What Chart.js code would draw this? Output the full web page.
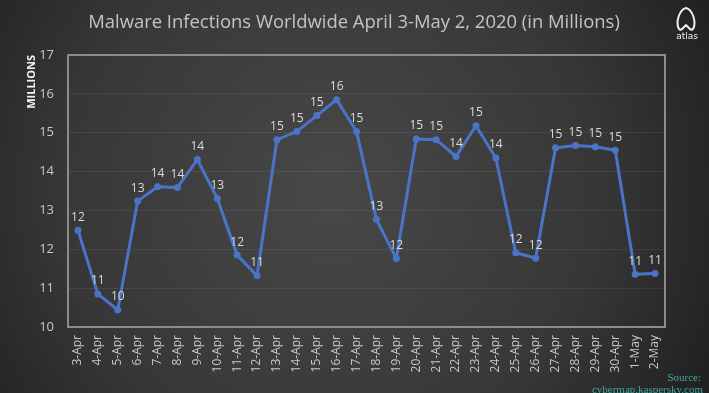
<!DOCTYPE html>
<html>
<head>
<meta charset="utf-8">
<script src="https://cdn.jsdelivr.net/npm/chart.js@4.4.1/dist/chart.umd.min.js"></script>
<style>
html,body{margin:0;padding:0;background:#2e2e2e;}
#wrap{width:709px;height:393px;position:relative;}
</style>
</head>
<body>
<div id="wrap"><canvas id="c" width="709" height="393"></canvas></div>
<script>
const chartTitle = "Malware Infections Worldwide April 3-May 2, 2020 (in Millions)";
const yAxisTitle = "MILLIONS";
const sourceLines = ["Source:", "cybermap.kaspersky.com"];
const logoText = "atlas";
const categories = ["3-Apr","4-Apr","5-Apr","6-Apr","7-Apr","8-Apr","9-Apr","10-Apr","11-Apr","12-Apr",
  "13-Apr","14-Apr","15-Apr","16-Apr","17-Apr","18-Apr","19-Apr","20-Apr","21-Apr","22-Apr",
  "23-Apr","24-Apr","25-Apr","26-Apr","27-Apr","28-Apr","29-Apr","30-Apr","1-May","2-May"];
const infections = [12.49,10.85,10.44,13.24,13.61,13.59,14.31,13.31,11.85,11.32,
  14.82,15.03,15.44,15.85,15.03,12.77,11.76,14.84,14.82,14.39,
  15.18,14.35,11.91,11.77,14.61,14.67,14.64,14.55,11.36,11.38];
const yMin = 10, yMax = 17;

const W = 709, H = 393;
const AREA = {left:68, right:665, top:55, bottom:327};

const bgPlugin = {
  id:'bg',
  beforeDraw(chart){
    const ctx = chart.ctx;
    ctx.save();
    const g = ctx.createRadialGradient(330,190,20,330,190,470);
    g.addColorStop(0,'#474747');
    g.addColorStop(0.55,'#373737');
    g.addColorStop(1,'#1a1a1a');
    ctx.fillStyle = g;
    ctx.fillRect(0,0,W,H);
    ctx.restore();
  },
  beforeDatasetsDraw(chart){
    const ctx = chart.ctx, a = chart.chartArea;
    ctx.save();
    ctx.strokeStyle = '#8c8c8c';
    ctx.lineWidth = 2;
    ctx.strokeRect(a.left, a.top, a.right-a.left, a.bottom-a.top);
    ctx.restore();
  },
  afterDraw(chart){
    const ctx = chart.ctx;
    ctx.save();
    // title
    ctx.fillStyle = '#c4c4c4';
    ctx.textAlign = 'center';
    ctx.textBaseline = 'middle';
    let fs = 20;
    ctx.font = fs + 'px "Open Sans"';
    const w = ctx.measureText(chartTitle).width;
    fs = fs * 532 / w;
    ctx.font = fs.toFixed(2) + 'px "Open Sans"';
    ctx.fillText(chartTitle, 354, 23);
    // data labels
    const meta = chart.getDatasetMeta(0);
    ctx.font = '12px "Open Sans"';
    ctx.fillStyle = '#dcdcdc';
    ctx.textBaseline = 'bottom';
    meta.data.forEach((pt,i)=>{
      ctx.fillText(String(Math.round(infections[i])), pt.x, pt.y - 7);
    });
    // source
    ctx.fillStyle = '#3fa7a0';
    ctx.textAlign = 'right';
    ctx.textBaseline = 'middle';
    ctx.font = '11px "Liberation Serif"';
    ctx.fillText(sourceLines[0], 701, 378);
    ctx.fillText(sourceLines[1], 703, 390);
    // logo
    ctx.strokeStyle = '#f0f0f0';
    ctx.lineWidth = 2;
    ctx.lineJoin = 'round';
    ctx.beginPath();
    ctx.moveTo(679,29);
    ctx.bezierCurveTo(675,22,680,9,686,8);
    ctx.bezierCurveTo(692,9,697,22,693,29);
    ctx.bezierCurveTo(691,31,689,28,686,25);
    ctx.bezierCurveTo(683,28,681,31,679,29);
    ctx.closePath();
    ctx.stroke();
    ctx.fillStyle = '#f0f0f0';
    ctx.textAlign = 'center';
    ctx.font = '9px "DejaVu Sans"';
    ctx.fillText(logoText, 687, 37);
    ctx.restore();
  }
};

new Chart(document.getElementById('c'), {
  type:'line',
  data:{
    labels: categories,
    datasets:[{
      data: infections,
      borderColor:'#4a74c8',
      backgroundColor:'#4a74c8',
      borderWidth:3,
      pointRadius:3.5,
      pointBorderWidth:0,
      pointBackgroundColor:'#4a74c8',
      tension:0,
      fill:false
    }]
  },
  options:{
    responsive:false,
    animation:false,
    devicePixelRatio:1,
    layout:{padding:{left:0,right:W-AREA.right,top:AREA.top,bottom:0}},
    plugins:{legend:{display:false},tooltip:{enabled:false},title:{display:false}},
    scales:{
      x:{
        offset:true,
        grid:{display:false, drawTicks:false},
        border:{display:false},
        ticks:{color:'#c8c8c8',font:{family:'Open Sans',size:12},minRotation:90,maxRotation:90,padding:8,autoSkip:false},
        afterFit(s){ s.height = H - AREA.bottom; }
      },
      y:{
        min:yMin,max:yMax,
        grid:{color:'rgba(255,255,255,0.07)',lineWidth:1,drawTicks:false},
        border:{display:false},
        ticks:{stepSize:1,color:'#c8c8c8',font:{family:'Open Sans',size:13},padding:14},
        title:{display:true,text:yAxisTitle,align:'end',color:'#f2f2f2',font:{family:'Open Sans',size:11,weight:'bold'},padding:{top:25,bottom:4}},
        afterFit(s){ s.width = AREA.left; }
      }
    }
  },
  plugins:[bgPlugin]
});
</script>
</body>
</html>
